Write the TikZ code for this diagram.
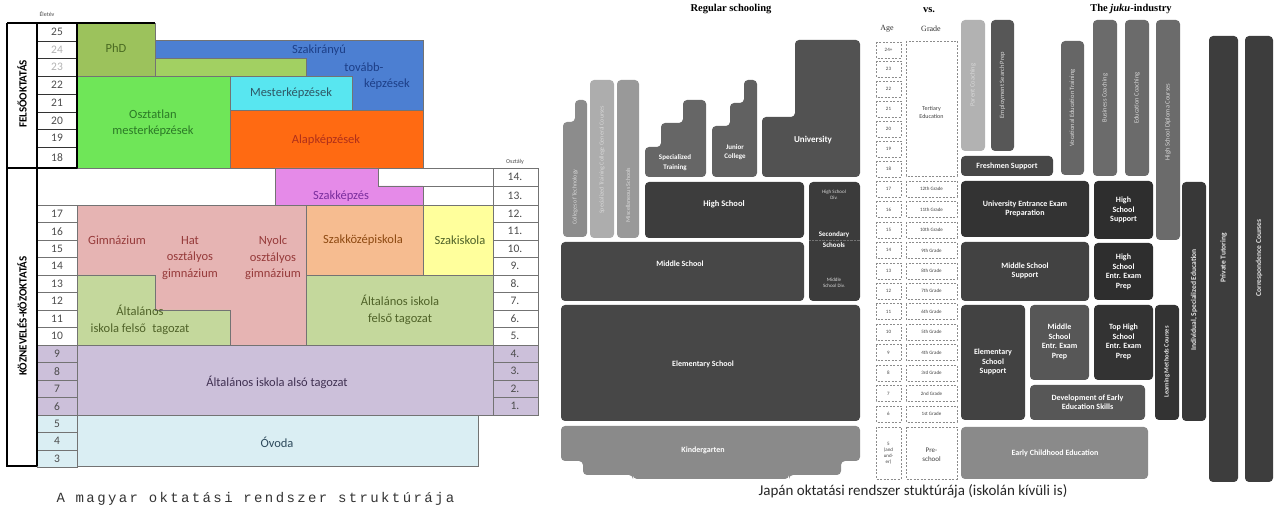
\documentclass[tikz,border=0pt]{standalone}
\usepackage{fontspec}
\setmainfont{Carlito}
\newfontfamily\ttlfont{Liberation Serif}
\newfontfamily\capfont[LetterSpace=17]{Liberation Mono}
\usetikzlibrary{positioning}

% colours of the Hungarian chart
\definecolor{phdgreen}{HTML}{9CC25C}
\definecolor{stripgreen}{HTML}{A2D062}
\definecolor{tovblue}{HTML}{4C7FD2}
\definecolor{osztgreen}{HTML}{6FE658}
\definecolor{mestcyan}{HTML}{58E6F0}
\definecolor{alaporange}{HTML}{FF6A12}
\definecolor{szakpink}{HTML}{E58AE8}
\definecolor{gimnpink}{HTML}{E6B4B3}
\definecolor{felsogreen}{HTML}{C4D89C}
\definecolor{kozeporange}{HTML}{F6BC90}
\definecolor{szakyellow}{HTML}{FFFF9C}
\definecolor{alsopurple}{HTML}{CCC0DA}
\definecolor{ovodablue}{HTML}{DAEEF3}
\definecolor{tphd}{HTML}{4A6B22}
\definecolor{ttov}{HTML}{1D3F88}
\definecolor{tmest}{HTML}{2E5866}
\definecolor{toszt}{HTML}{2C7A27}
\definecolor{talap}{HTML}{B0301A}
\definecolor{tszak}{HTML}{7A2E9E}
\definecolor{tgimn}{HTML}{963A3A}
\definecolor{tkozep}{HTML}{8E4A12}
\definecolor{tolive}{HTML}{4F6228}
\definecolor{tpurple}{HTML}{403152}
\definecolor{tovoda}{HTML}{2E4A5C}

\tikzset{
  cell/.style={draw=black!55, line width=0.5pt},
  agenum/.style={font=\fontsize{11.5}{12}\selectfont, text=black!70, inner sep=0pt},
  hulbl/.style={font=\fontsize{12.5}{16.5}\selectfont, align=center, inner sep=0pt},
  seclbl/.style={font=\bfseries\fontsize{11}{12}\selectfont, rotate=90, inner sep=0pt},
  ttl/.style={font=\ttlfont\bfseries\fontsize{10.5}{12}\selectfont, inner sep=0pt},
  jblock/.style={rounded corners=4pt},
  jtxt/.style={text=white, font=\bfseries\fontsize{8}{9.5}\selectfont, align=center, inner sep=0pt},
  jsmall/.style={text=white!85!black, font=\fontsize{5}{6}\selectfont, align=center, inner sep=0pt},
  vlbl/.style={text=white!85!black, font=\fontsize{6}{7}\selectfont, rotate=90, inner sep=0pt},
  vjuku/.style={text=white!90!black, font=\bfseries\fontsize{7.5}{9}\selectfont, rotate=90, inner sep=0pt},
  dbox/.style={draw=black!45, dash pattern=on 2pt off 1.5pt, line width=0.5pt},
  dtxt/.style={font=\fontsize{5}{6}\selectfont, text=black!75, align=center, inner sep=0pt},
  hdr/.style={font=\ttlfont\fontsize{8}{9}\selectfont, text=black!80, inner sep=0pt},
}

\begin{document}
\begin{tikzpicture}[x=1pt, y=-1pt]
\useasboundingbox (0,0) rectangle (1275,510);

% ---------- Hungarian system ----------
% higher education
\filldraw[cell, fill=tovblue] (155,40) rectangle (423,110);
\filldraw[cell, fill=phdgreen] (77,23) rectangle (155,76);
\filldraw[cell, fill=stripgreen] (155,58) rectangle (306,76);
\filldraw[cell, fill=osztgreen] (77,76) rectangle (230,168);
\filldraw[cell, fill=mestcyan] (230,76) rectangle (352,110);
\filldraw[cell, fill=alaporange] (230,110) rectangle (423,168);

% public education
\draw[cell] (37,168) rectangle (275,205);
\draw[cell] (378,168) -- (493,168) (423,186) -- (493,186);
\filldraw[cell, fill=szakpink] (275,168) -- (378,168) -- (378,186) -- (423,186) -- (423,205) -- (275,205) -- cycle;
\filldraw[cell, fill=gimnpink] (77,205) rectangle (306,345);
\filldraw[cell, fill=felsogreen] (77,275) -- (155,275) -- (155,310) -- (230,310) -- (230,345) -- (77,345) -- cycle;
\filldraw[cell, fill=kozeporange] (306,205) rectangle (423,275);
\filldraw[cell, fill=szakyellow] (423,205) rectangle (493,275);
\filldraw[cell, fill=felsogreen] (306,275) rectangle (493,345);
\filldraw[cell, fill=alsopurple] (77,345) rectangle (493,415);
\filldraw[cell, fill=ovodablue] (77,415) rectangle (478,466);

% age column
\foreach \a/\yt/\yb/\tc in {25/23/41/black!70, 24/41/58/black!30, 23/58/76/black!30, 22/76/94/black!70,
    21/94/112/black!70, 20/112/129/black!70, 19/129/147/black!70, 18/147/168/black!70} {
  \draw[cell, draw=black!80] (37,\yt) rectangle (77,\yb);
  \node[agenum, text=\tc] (age\a) at (57,{(\yt+\yb)/2}) {\a};
}
\foreach \a in {17,...,3} {
  \pgfmathsetmacro{\yt}{205+17.5*(17-\a)}
  \def\tint{white}
  \ifnum\a<10 \def\tint{alsopurple}\fi
  \ifnum\a<6 \def\tint{ovodablue}\fi
  \filldraw[cell, fill=\tint] (37,\yt) rectangle (77,\yt+17.5);
  \node[agenum] (age\a) at (57,\yt+8.75) {\a};
}

% grade column
\foreach \g/\yt/\yb in {14/168/186, 13/186/205} {
  \draw[cell] (493,\yt) rectangle (538,\yb);
  \node[agenum] (gr\g) at (515,{(\yt+\yb)/2}) {\g.};
}
\foreach \g in {12,...,1} {
  \pgfmathsetmacro{\yt}{205+17.5*(12-\g)}
  \def\tint{white}
  \ifnum\g<5 \def\tint{alsopurple}\fi
  \filldraw[cell, fill=\tint] (493,\yt) rectangle (538,\yt+17.5);
  \node[agenum] (gr\g) at (515,\yt+8.75) {\g.};
}

% heavy frame
\draw[line width=1.6pt] (7,23) -- (155,23);
\draw[line width=1.6pt] (7,23) -- (7,466) -- (37,466);
\draw[line width=1.6pt] (37,23) -- (37,466);
\draw[line width=1.6pt] (7,168) -- (77,168);
\draw[line width=1.2pt] (77,23) -- (77,168);

\node[font=\fontsize{6}{7}\selectfont, text=black!70] (eletev) at (47,14) {Életév};
\node[font=\fontsize{6}{7}\selectfont, text=black!70] (osztaly) at (515,162) {Osztály};
\node[seclbl] (felso) at (22,94) {FELSŐOKTATÁS};
\node[seclbl] (kozneveles) at (22,316) {KÖZNEVELÉS-KÖZOKTATÁS};

\node[hulbl, text=tphd] (phd) at (116,48) {PhD};
\node[hulbl, text=ttov] (tov1) at (319,50) {Szakirányú};
\node[hulbl, text=ttov] (tov2) at (364,67) {tovább-};
\node[hulbl, text=ttov] (tov3) at (387,84) {képzések};
\node[hulbl, text=tmest] (mest) at (291,93) {Mesterképzések};
\node[hulbl, text=toszt] (osztatlan) at (153,123) {Osztatlan\\mesterképzések};
\node[hulbl, text=talap] (alap) at (326,140) {Alapképzések};
\node[hulbl, text=tszak] (szakkepzes) at (341,196) {Szakképzés};
\node[hulbl, text=tgimn] (gimn) at (117,240) {Gimnázium};
\node[hulbl, text=tgimn] (hatoszt) at (190,258) {Hat\\osztályos\\gimnázium};
\node[hulbl, text=tgimn] (nyolcoszt) at (273,258) {Nyolc\\osztályos\\gimnázium};
\node[hulbl, text=tkozep] (szakkozep) at (363,240) {Szakközépiskola};
\node[hulbl, text=tolive] (szakisk) at (460,240) {Szakiskola};
\node[hulbl, text=tolive] (felsobal) at (140,320) {Általános\\iskola felső\enspace tagozat};
\node[hulbl, text=tolive] (felsojobb) at (400,310) {Általános iskola\\felső tagozat};
\node[hulbl, text=tpurple] (also) at (277,382) {Általános iskola alsó tagozat};
\node[hulbl, text=tovoda] (ovoda) at (277,442) {Óvoda};

\node[anchor=base west, font=\capfont\fontsize{14}{14}\selectfont, text=black!80] (hucap) at (53,503) {A magyar oktatási rendszer struktúrája};

% ---------- Japanese system: regular schooling ----------
\node[ttl] (regular) at (731,9) {Regular schooling};
\node[ttl] (versus) at (929,10) {vs.};
\node[ttl] (juku) at (1131,9) {The \textit{juku}-industry};

\fill[jblock, fill=black!45] (563,237) -- (563,122) -- (575,122) -- (575,100) -- (587,100) -- (587,237) -- cycle;
\fill[jblock, fill=black!32] (590,80) rectangle (614,238);
\fill[jblock, fill=black!40] (617,80) rectangle (639,238);
\fill[jblock, fill=black!60] (645,177) -- (645,147) -- (661,147) -- (661,123) -- (683,123) -- (683,100) -- (706,100) -- (706,177) -- cycle;
\fill[jblock, fill=black!62] (712,177) -- (712,126) -- (730,126) -- (730,103) -- (744,103) -- (744,80) -- (757,80) -- (757,177) -- cycle;
\fill[jblock, fill=black!68] (762,177) -- (762,117) -- (795,117) -- (795,40) -- (860,40) -- (860,177) -- cycle;
\fill[jblock, fill=black!76] (645,182) rectangle (804,238);
\fill[jblock, fill=black!77] (809,182) rectangle (860,301);
\draw[black!55, densely dotted] (809,240) -- (860,240);
\fill[jblock, fill=black!72] (561,242) rectangle (804,301);
\fill[jblock, fill=black!72] (561,305) rectangle (860,421);
\fill[jblock, fill=black!46] (561,426) -- (860,426) -- (860,461) -- (841,461) -- (841,475) -- (789,475) -- (789,479)
    -- (633,479) -- (633,475) -- (583,475) -- (583,461) -- (561,461) -- cycle;

\node[vlbl] (coltech) at (575,197) {Colleges of Technology};
\node[vlbl] (spcourses) at (602,160) {Specialized Training College General Courses};
\node[vlbl] (misc) at (628,195) {Miscellaneous Schools};
\node[jtxt, font=\bfseries\fontsize{7}{10}\selectfont] (spec) at (675,163) {Specialized\\Training};
\node[jtxt, font=\bfseries\fontsize{7}{9}\selectfont] (junior) at (735,152) {Junior\\College};
\node[jtxt, font=\bfseries\fontsize{9}{10}\selectfont] (univ) at (813,140) {University};
\node[jtxt, font=\bfseries\fontsize{8.5}{10}\selectfont] (highs) at (724,204) {High School};
\node[jsmall] (hsdiv) at (834,195) {High School\\Div.};
\node[jtxt, font=\bfseries\fontsize{7}{11}\selectfont] (secondary) at (834,240) {Secondary\\Schools};
\node[jsmall] (msdiv) at (834,283) {Middle\\School Div.};
\node[jtxt] (middles) at (680,264) {Middle School};
\node[jtxt] (elems) at (703,364) {Elementary School};
\node[jtxt] (kinder) at (703,450) {Kindergarten};

% ---------- age and grade columns ----------
\node[hdr] (agehdr) at (887,29) {Age};
\node[hdr] (gradehdr) at (931,29) {Grade};
\foreach \a/\yc in {24+/50, 23/69, 22/89, 21/109, 20/129, 19/149, 18/169} {
  \draw[dbox] (876,{\yc-8}) rectangle (901,{\yc+8});
  \node[dtxt] (yr\yc) at (888.5,\yc) {\a};
}
\draw[dbox] (906,41) rectangle (957,176);
\node[dtxt, font=\fontsize{6}{8}\selectfont] (tertiary) at (931.5,112) {Tertiary\\Education};
\foreach \a/\g in {17/12th, 16/11th, 15/10th, 14/9th, 13/8th, 12/7th, 11/6th, 10/5th, 9/4th, 8/3rd, 7/2nd, 6/1st} {
  \pgfmathsetmacro{\yc}{189+20.45*(17-\a)}
  \draw[dbox] (876,\yc-8) rectangle (901,\yc+8);
  \draw[dbox] (906,\yc-8) rectangle (957,\yc+8);
  \node[dtxt] (yr\a) at (888.5,\yc) {\a};
  \node[dtxt] (gd\a) at (931.5,\yc) {\g{} Grade};
}
\draw[dbox] (876,427) rectangle (901,479);
\draw[dbox] (906,427) rectangle (957,479);
\node[dtxt, font=\fontsize{5}{6}\selectfont] (yr5) at (888.5,453) {5\\(and\\und-\\er)};
\node[dtxt, font=\fontsize{7}{9}\selectfont] (preschool) at (931.5,455) {Pre-\\school};

% ---------- juku industry ----------
\fill[jblock, fill=black!30] (961,20) rectangle (985,151);
\fill[jblock, fill=black!66] (991,20) rectangle (1014,151);
\fill[jblock, fill=black!72] (961,156) rectangle (1053,176);
\fill[jblock, fill=black!60] (1061,41) rectangle (1084,175);
\fill[jblock, fill=black!58] (1093,20) rectangle (1117,176);
\fill[jblock, fill=black!58] (1125,20) rectangle (1149,176);
\fill[jblock, fill=black!58] (1156,20) rectangle (1180,240);
\fill[jblock, fill=black!76] (1209,36) rectangle (1238,482);
\fill[jblock, fill=black!76] (1245,36) rectangle (1273,482);
\fill[jblock, fill=black!80] (961,181) rectangle (1089,237);
\fill[jblock, fill=black!82] (1094,181) rectangle (1153,239);
\fill[jblock, fill=black!74] (961,242) rectangle (1089,301);
\fill[jblock, fill=black!82] (1094,243) rectangle (1153,300);
\fill[jblock, fill=black!74] (961,305) rectangle (1025,420);
\fill[jblock, fill=black!66] (1030,305) rectangle (1089,380);
\fill[jblock, fill=black!80] (1094,305) rectangle (1153,380);
\fill[jblock, fill=black!66] (1030,385) rectangle (1145,420);
\fill[jblock, fill=black!80] (1155,305) rectangle (1179,420);
\fill[jblock, fill=black!78] (1182,182) rectangle (1206,421);
\fill[jblock, fill=black!46] (961,427) rectangle (1148,479);

\node[vlbl, font=\fontsize{6.5}{7}\selectfont] (parent) at (973,85) {Parent Coaching};
\node[vlbl, font=\fontsize{6.5}{7}\selectfont] (employ) at (1002.5,85) {Employment Search Prep};
\node[jtxt] (freshmen) at (1007,166) {Freshmen Support};
\node[vlbl, font=\fontsize{6.5}{7}\selectfont] (vocational) at (1072.5,108) {Vocational Education Training};
\node[vlbl, font=\fontsize{6.5}{7}\selectfont] (business) at (1105,98) {Business Coaching};
\node[vlbl, font=\fontsize{6.5}{7}\selectfont] (educoach) at (1137,98) {Education Coaching};
\node[vlbl, font=\fontsize{6.5}{7}\selectfont] (hsdiploma) at (1168,122) {High School Diploma Courses};
\node[vjuku] (private) at (1223.5,258) {Private Tutoring};
\node[vjuku] (corresp) at (1259,258) {Correspondence Courses};
\node[jtxt] (uniexam) at (1025,209) {University Entrance Exam\\Preparation};
\node[jtxt] (hssupport) at (1123.5,210) {High\\School\\Support};
\node[jtxt] (mssupport) at (1025,271) {Middle School\\Support};
\node[jtxt] (hsentr) at (1123.5,272) {High\\School\\Entr. Exam\\Prep};
\node[jtxt] (elemsupport) at (993,362) {Elementary\\School\\Support};
\node[jtxt] (msentr) at (1059.5,342) {Middle\\School\\Entr. Exam\\Prep};
\node[jtxt] (tophs) at (1123.5,342) {Top High\\School\\Entr. Exam\\Prep};
\node[jtxt] (devearly) at (1087.5,402) {Development of Early\\Education Skills};
\node[vjuku, font=\bfseries\fontsize{6.5}{7}\selectfont] (learning) at (1167,362) {Learning Methods Courses};
\node[vjuku] (indiv) at (1194,300) {Individual, Specialized Education};
\node[jtxt] (earlychild) at (1055,453) {Early Childhood Education};

\node[font=\fontsize{15}{17}\selectfont, text=black!85] (jpcap) at (913,491) {Japán oktatási rendszer stuktúrája (iskolán kívüli is)};
\end{tikzpicture}
\end{document}
